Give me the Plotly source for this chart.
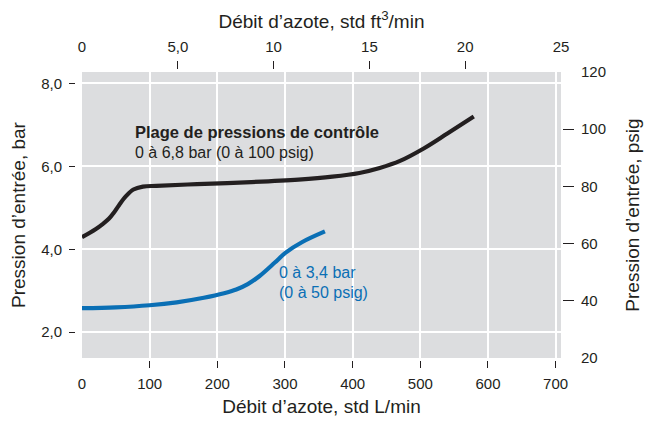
import plotly.graph_objects as go

# ---- data ----
black_flow_lpm = [0, 20, 30, 40, 47, 55, 65, 76, 90, 110, 170, 250, 320, 370, 410, 440, 470, 505, 540, 579]
black_press_bar = [4.29, 4.48, 4.60, 4.74, 4.88, 5.07, 5.28, 5.44, 5.51, 5.53, 5.57, 5.62, 5.68, 5.75, 5.84, 5.96, 6.13, 6.43, 6.79, 7.20]

blue_flow_lpm = [0, 50, 100, 140, 180, 210, 228, 245, 262, 285, 301, 325, 359]
blue_press_bar = [2.58, 2.60, 2.65, 2.72, 2.83, 2.94, 3.03, 3.16, 3.35, 3.68, 3.92, 4.17, 4.43]

bottom_ticks = [0, 100, 200, 300, 400, 500, 600, 700]
bottom_tick_marks = [100, 200, 300, 400, 500, 600, 700]
top_ticks = [0, 5, 10, 15, 20, 25]
top_tick_text = ["0", "5,0", "10", "15", "20", "25"]
top_tick_marks = [5, 10, 15, 20]
left_ticks = [2, 4, 6, 8]
left_tick_text = ["2,0", "4,0", "6,0", "8,0"]
right_ticks = [20, 40, 60, 80, 100, 120]
right_tick_marks = [40, 60, 80, 100]

PSI_PER_BAR = 14.5038
LPM_PER_CFM = 28.3168

FONT = "Liberation Sans, Arial, Helvetica, sans-serif"
TXT = "#231f20"
BLUE = "#0a6fb5"
BG = "#dcdddf"

x_range = [0, 25 * LPM_PER_CFM]
y_range = [20 / PSI_PER_BAR, 120 / PSI_PER_BAR]

black_flow_cfm = [v / LPM_PER_CFM for v in black_flow_lpm]
black_press_psig = [v * PSI_PER_BAR for v in black_press_bar]

fig = go.Figure()
fig.add_trace(go.Scatter(x=black_flow_lpm, y=black_press_bar, mode="lines",
                         line=dict(color=TXT, width=4.2, shape="spline", smoothing=1.0),
                         showlegend=False, hoverinfo="skip"))
fig.add_trace(go.Scatter(x=blue_flow_lpm, y=blue_press_bar, mode="lines",
                         line=dict(color=BLUE, width=4.2, shape="spline", smoothing=1.0),
                         showlegend=False, hoverinfo="skip"))
# same curve expressed in secondary units (transparent) so the secondary scales are drawn
fig.add_trace(go.Scatter(x=black_flow_cfm, y=black_press_psig, xaxis="x2", yaxis="y2",
                         mode="lines", line=dict(color="rgba(0,0,0,0)"),
                         showlegend=False, hoverinfo="skip"))
fig.add_trace(go.Scatter(x=black_flow_lpm, y=black_press_psig, xaxis="x3", yaxis="y4",
                         mode="lines", line=dict(color="rgba(0,0,0,0)"),
                         showlegend=False, hoverinfo="skip"))
fig.add_trace(go.Scatter(x=black_flow_cfm, y=black_press_bar, xaxis="x4", yaxis="y",
                         mode="lines", line=dict(color="rgba(0,0,0,0)"),
                         showlegend=False, hoverinfo="skip"))

tickfont = dict(family=FONT, size=15, color=TXT)
titlefont = dict(family=FONT, size=19, color=TXT)
GAP = "white"
NOC = "rgba(0,0,0,0)"

fig.update_layout(
    width=652, height=421,
    margin=dict(l=74, r=99, t=64, b=71),
    paper_bgcolor="white", plot_bgcolor=BG,
    font=dict(family=FONT, color=TXT),
    xaxis=dict(range=x_range, tickmode="array", tickvals=bottom_ticks,
               ticktext=[str(v) for v in bottom_ticks],
               ticks="outside", ticklen=7, tickcolor=NOC, ticklabelstandoff=3,
               showline=True, linecolor=GAP, linewidth=3, automargin=False,
               showgrid=False, zeroline=False, tickfont=tickfont,
               title=dict(text="Débit d’azote, std L/min", font=titlefont, standoff=9)),
    xaxis3=dict(range=x_range, overlaying="x", side="bottom", anchor="y",
                tickmode="array", tickvals=bottom_tick_marks, showticklabels=False,
                ticks="outside", ticklen=7, tickwidth=1.2, tickcolor=TXT,
                showline=True, linecolor=GAP, linewidth=3, automargin=False,
                showgrid=True, gridcolor="white", gridwidth=1.5, zeroline=False),
    xaxis2=dict(range=[0, 25], overlaying="x", side="top", anchor="y",
                tickmode="array", tickvals=top_ticks, ticktext=top_tick_text,
                ticks="outside", ticklen=8, tickcolor=NOC,
                ticklabelstandoff=3, automargin=False,
                showline=True, linecolor=GAP, linewidth=3,
                showgrid=False, zeroline=False, tickfont=tickfont,
                title=dict(text="Débit d’azote, std ft<sup>3</sup>/min", font=titlefont, standoff=9)),
    xaxis4=dict(range=[0, 25], overlaying="x", side="top", anchor="y",
                tickmode="array", tickvals=top_tick_marks, showticklabels=False,
                ticks="outside", ticklen=8, tickwidth=1.2, tickcolor=TXT,
                showline=True, linecolor=GAP, linewidth=3, automargin=False,
                showgrid=False, zeroline=False),
    yaxis=dict(range=y_range, tickmode="array", tickvals=left_ticks, ticktext=left_tick_text,
               ticks="outside", ticklen=6, tickwidth=1.2, tickcolor=TXT,
               showline=True, linecolor=GAP, linewidth=7, automargin=False,
               showgrid=True, gridcolor="white", gridwidth=1.5, zeroline=False,
               tickfont=tickfont, ticklabelstandoff=4,
               title=dict(text="Pression d’entrée, bar", font=titlefont, standoff=14)),
    yaxis2=dict(range=[20, 120], overlaying="y", side="right", anchor="x",
                tickmode="array", tickvals=right_ticks, ticktext=[str(v) for v in right_ticks],
                ticks="outside", ticklen=11, tickcolor=NOC, automargin=False,
                showline=True, linecolor=GAP, linewidth=2,
                showgrid=False, zeroline=False, tickfont=tickfont, ticklabelstandoff=4,
                title=dict(text="Pression d’entrée, psig", font=titlefont, standoff=21)),
    yaxis4=dict(range=[20, 120], overlaying="y", side="right", anchor="x",
                tickmode="array", tickvals=right_tick_marks, showticklabels=False,
                ticks="outside", ticklen=11, tickwidth=1.2, tickcolor=TXT,
                showline=True, linecolor=GAP, linewidth=2, automargin=False,
                showgrid=False, zeroline=False),
)

fig.add_annotation(x=76, y=6.82, xref="x", yref="y", text="<b>Plage de pressions de contrôle</b>",
                   showarrow=False, xanchor="left", yanchor="middle",
                   font=dict(family=FONT, size=16.5, color=TXT))
fig.add_annotation(x=76, y=6.34, xref="x", yref="y", text="0 à 6,8 bar (0 à 100 psig)",
                   showarrow=False, xanchor="left", yanchor="middle",
                   font=dict(family=FONT, size=16, color=TXT))
fig.add_annotation(x=288, y=3.45, xref="x", yref="y", text="0 à 3,4 bar",
                   showarrow=False, xanchor="left", yanchor="middle",
                   font=dict(family=FONT, size=16, color=BLUE))
fig.add_annotation(x=288, y=2.97, xref="x", yref="y", text="(0 à 50 psig)",
                   showarrow=False, xanchor="left", yanchor="middle",
                   font=dict(family=FONT, size=16, color=BLUE))

fig.write_html("out.html")
